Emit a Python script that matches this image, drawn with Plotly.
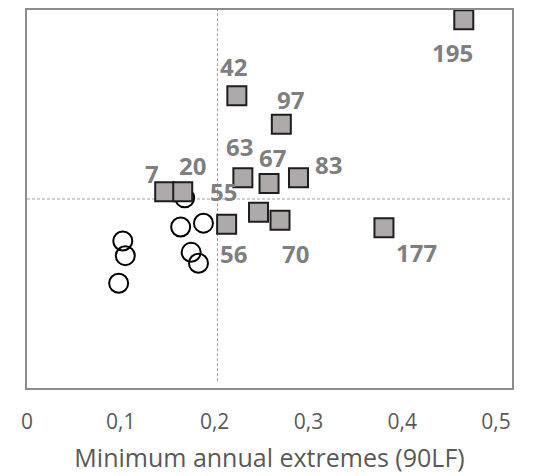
import plotly.graph_objects as go

# ---- data ----
square_labels = ["195", "42", "97", "63", "67", "83", "7", "20", "55", "56", "70", "177"]
square_x = [0.4656, 0.2237, 0.2711, 0.2301, 0.2580, 0.2894, 0.1468, 0.1660, 0.2468, 0.2128, 0.2697, 0.3805]
square_y = [0.974, 0.773, 0.698, 0.556, 0.541, 0.556, 0.519, 0.519, 0.465, 0.433, 0.444, 0.424]

circle_x = [0.1681, 0.1638, 0.1881, 0.1021, 0.1048, 0.1750, 0.1828, 0.0977]
circle_y = [0.503, 0.426, 0.436, 0.389, 0.350, 0.359, 0.330, 0.277]

x_threshold = 0.203
y_threshold = 0.50

x_ticks = [0, 0.1, 0.2, 0.3, 0.4, 0.5]
x_tick_labels = ["0", "0,1", "0,2", "0,3", "0,4", "0,5"]
x_title = "Minimum annual extremes (90LF)"

# ---- label placement (pixel offsets, styling only) ----
label_offsets = {
    "195": (-11, 33), "42": (-3, -29), "97": (9, -25), "63": (-3, -31),
    "67": (3, -26), "83": (30, -13), "7": (-13, -18), "20": (10, -26),
    "55": (-35, -21), "56": (7, 29), "70": (15, 33), "177": (33, 25),
}

X_MAX = 0.517

fig = go.Figure()

# dashed reference lines
fig.add_shape(type="line", x0=x_threshold, x1=x_threshold, y0=0.018, y1=1,
              line=dict(color="#a0a0a0", width=1, dash="3px,2px"), layer="below")
fig.add_shape(type="line", x0=0, x1=X_MAX, y0=y_threshold, y1=y_threshold,
              line=dict(color="#a0a0a0", width=1, dash="3px,2px"), layer="below")

fig.add_trace(go.Scatter(
    x=circle_x, y=circle_y, mode="markers",
    marker=dict(symbol="circle-open", size=19, color="#000000",
                line=dict(width=2, color="#000000")),
    showlegend=False, hoverinfo="skip"))

fig.add_trace(go.Scatter(
    x=square_x, y=square_y, mode="markers",
    marker=dict(symbol="square", size=19, color="#AEAAAA",
                line=dict(width=2, color="#1e1e1e")),
    showlegend=False, hoverinfo="skip"))

for lab, xv, yv in zip(square_labels, square_x, square_y):
    dx, dy = label_offsets[lab]
    fig.add_annotation(x=xv, y=yv, text=lab, showarrow=False,
                       xshift=dx, yshift=-dy,
                       font=dict(family="Open Sans", size=24, color="#7f7f7f", weight="bold"))

fig.update_layout(
    width=539, height=476,
    margin=dict(l=27, r=27, t=8, b=87),
    paper_bgcolor="white", plot_bgcolor="white",
    font=dict(family="Open Sans", color="#595959"),
)

fig.update_xaxes(
    range=[0, X_MAX], tickvals=x_ticks, ticktext=x_tick_labels,
    showgrid=False, zeroline=False, showline=True, mirror=True,
    linecolor="#8c8c8c", linewidth=1.5, ticks="", ticklabelstandoff=14,
    tickfont=dict(size=21, color="#595959"),
    title=dict(text=x_title, font=dict(size=25, color="#595959"), standoff=16),
)
fig.update_yaxes(
    range=[0, 1], showticklabels=False, showgrid=False, zeroline=False,
    showline=True, mirror=True, linecolor="#8c8c8c", linewidth=1.5, ticks="",
)

fig.write_html("out.html")
